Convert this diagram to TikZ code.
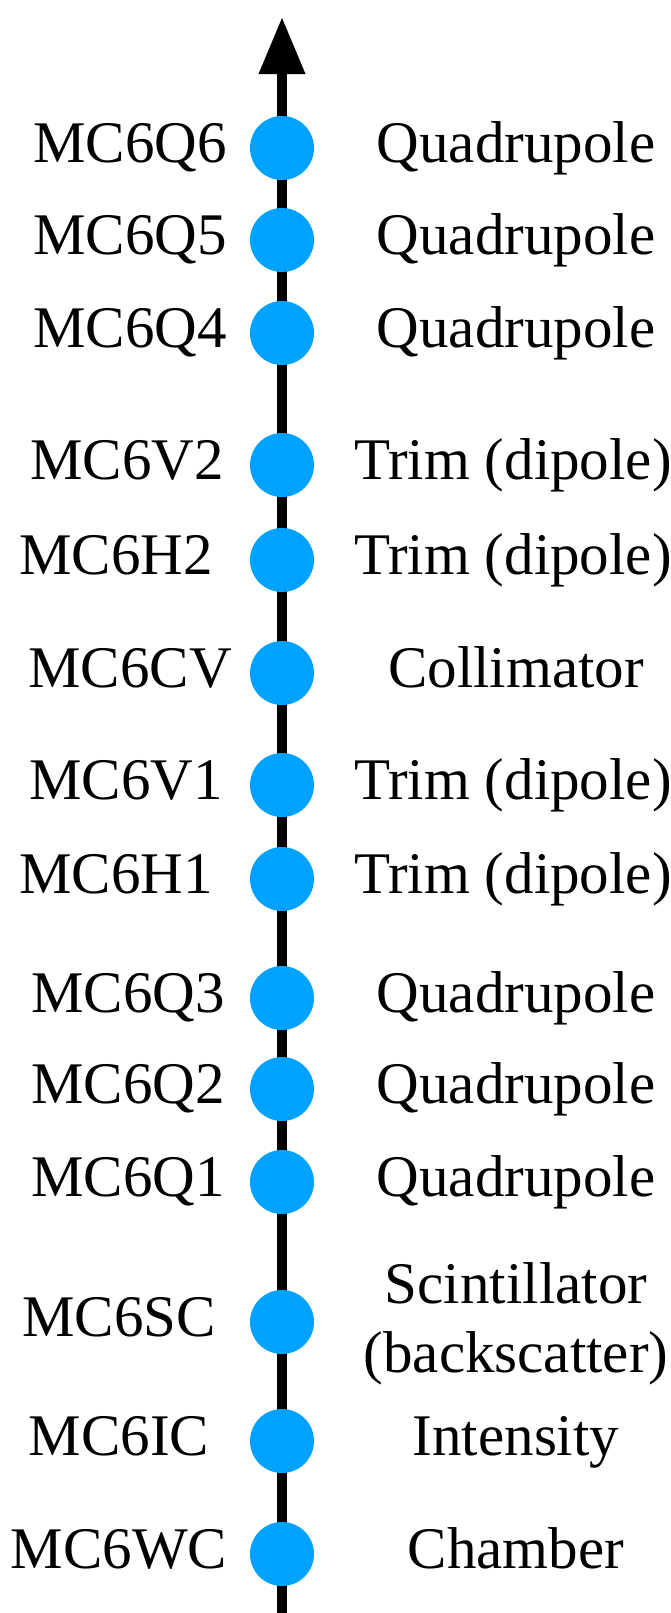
\documentclass[tikz,border=0pt]{standalone}
\usepackage{fontspec}
\setmainfont{Liberation Serif}
\usetikzlibrary{arrows.meta}
\definecolor{dotblue}{RGB}{0,162,255}
\tikzset{
  dot/.style={circle,fill=dotblue,draw=none,minimum size=32pt,inner sep=0pt},
  lbl/.style={anchor=base,inner sep=0pt,font=\fontsize{29.5pt}{34.5pt}\selectfont},
  beam/.style={line width=5pt,-{Triangle[width=22pt,length=28.5pt]}}
}
\begin{document}
\begin{tikzpicture}[x=0.5pt,y=-0.5pt]
\useasboundingbox (0,0) rectangle (670,1613);
\coordinate (bot) at (282,1613);
\coordinate (top) at (282,17);
\draw[beam] (bot) -- (top);
% dots
\foreach \n/\y in {q6/148,q5/240,q4/333,v2/465,h2/560,cv/673,v1/785,h1/879,q3/998,q2/1089,q1/1182,sc/1322,ic/1441,wc/1554}{
  \node[dot] (\n) at (282,\y) {};
}
% left labels
\node[lbl] (lq6) at (130,162) {MC6Q6};
\node[lbl] (lq5) at (130,254) {MC6Q5};
\node[lbl] (lq4) at (130,347) {MC6Q4};
\node[lbl] (lv2) at (127,479) {MC6V2};
\node[lbl] (lh2) at (116,574) {MC6H2};
\node[lbl] (lcv) at (130,687) {MC6CV};
\node[lbl] (lv1) at (126,799) {MC6V1};
\node[lbl] (lh1) at (116,893) {MC6H1};
\node[lbl] (lq3) at (128,1012) {MC6Q3};
\node[lbl] (lq2) at (128,1103) {MC6Q2};
\node[lbl] (lq1) at (128,1196) {MC6Q1};
\node[lbl] (lsc) at (119,1336) {MC6SC};
\node[lbl] (lic) at (119,1455) {MC6IC};
\node[lbl] (lwc) at (119,1568) {MC6WC};
% right labels
\node[lbl] (rq6) at (516,162) {Quadrupole};
\node[lbl] (rq5) at (516,254) {Quadrupole};
\node[lbl] (rq4) at (516,347) {Quadrupole};
\node[lbl] (rv2) at (513,479) {Trim (dipole)};
\node[lbl] (rh2) at (513,574) {Trim (dipole)};
\node[lbl] (rcv) at (516,687) {Collimator};
\node[lbl] (rv1) at (513,799) {Trim (dipole)};
\node[lbl] (rh1) at (513,893) {Trim (dipole)};
\node[lbl] (rq3) at (516,1012) {Quadrupole};
\node[lbl] (rq2) at (516,1103) {Quadrupole};
\node[lbl] (rq1) at (516,1196) {Quadrupole};
\node[lbl] (rsc1) at (516,1303) {Scintillator};
\node[lbl] (rsc2) at (516,1372) {(backscatter)};
\node[lbl] (ric) at (516,1455) {Intensity};
\node[lbl] (rwc) at (516,1568) {Chamber};
\end{tikzpicture}
\end{document}
